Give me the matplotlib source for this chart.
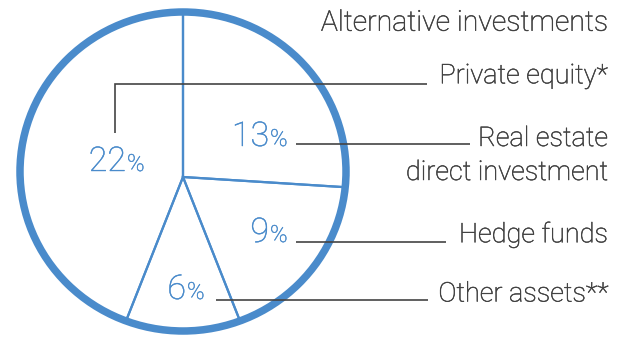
import matplotlib
matplotlib.use("Agg")
import matplotlib.pyplot as plt
import matplotlib.patheffects as pe
from matplotlib.patches import Ellipse

# ---- data ----
title = "Alternative investments"
categories = ["Real estate\ndirect investment", "Hedge funds", "Other assets**", "Private equity*"]
values = [13, 9, 6, 22]
pct_labels = ["13", "9", "6", "22"]

# ---- style / layout (pixel coordinates, y measured from top) ----
W, H = 631, 342
BLUE = "#4a8bcb"
GRAY = "#444444"
TXT = "#404040"
FONT = ["Roboto", "DejaVu Sans"]

def Y(py):
    return H - py

def thick(color, w):
    return [pe.withStroke(linewidth=w, foreground=color)]

fig = plt.figure(figsize=(W / 100, H / 100), dpi=100)
ax = fig.add_axes([0, 0, 1, 1])

vertex = (183, Y(177))
ell = Ellipse((183, Y(171.5)), 326, 319, fill=False, edgecolor=BLUE, lw=5.4, zorder=3)
ax.add_patch(ell)

wedges, _ = ax.pie(values, startangle=90, counterclock=False, center=vertex, radius=240,
                   wedgeprops=dict(facecolor="none", edgecolor=BLUE, linewidth=1.6))
for w in wedges:
    w.set_clip_on(True)
    w.set_clip_path(ell)

ax.set_aspect("auto")
ax.set_xlim(0, W)
ax.set_ylim(0, H)
ax.axis("off")

# percentage labels: (x anchor, baseline) per slice
pct_pos = [(269, 146), (269, 242), (186, 299), (126, 171)]
for lab, (px, py) in zip(pct_labels, pct_pos):
    ax.text(px, Y(py), lab, ha="right", va="baseline", color=BLUE, fontsize=24.5,
            family=FONT, fontweight="light", path_effects=thick(BLUE, 0.3))
    ax.text(px + 1, Y(py), "%", ha="left", va="baseline", color=BLUE, fontsize=17,
            family=FONT, fontweight="light", path_effects=thick(BLUE, 0.3))

# leader lines
leaders = [
    [(296, 144.3), (470, 144.3)],
    [(296, 242.3), (446, 242.3)],
    [(216, 300), (428, 300)],
    [(114.5, 133), (114.5, 83.5), (427, 83.5)],
]
for pts in leaders:
    xs = [p[0] for p in pts]
    ys = [Y(p[1]) for p in pts]
    ax.plot(xs, ys, color=GRAY, lw=1.2, solid_capstyle="butt", solid_joinstyle="miter", zorder=4)

# category labels (right aligned)
cat_base = [146, 242.3, 301.5, 83.3]
for cat, base in zip(categories, cat_base):
    for i, line in enumerate(cat.split("\n")):
        ax.text(608, Y(base + i * 34), line, ha="right", va="baseline", color=TXT,
                fontsize=19.5, family=FONT, fontweight="light", path_effects=thick(TXT, 0.35))

ax.text(608, Y(30.7), title, ha="right", va="baseline", color=TXT,
        fontsize=20.5, family=FONT, fontweight="light", path_effects=thick(TXT, 0.35))

fig.savefig("out.png", dpi=100, facecolor="white")
